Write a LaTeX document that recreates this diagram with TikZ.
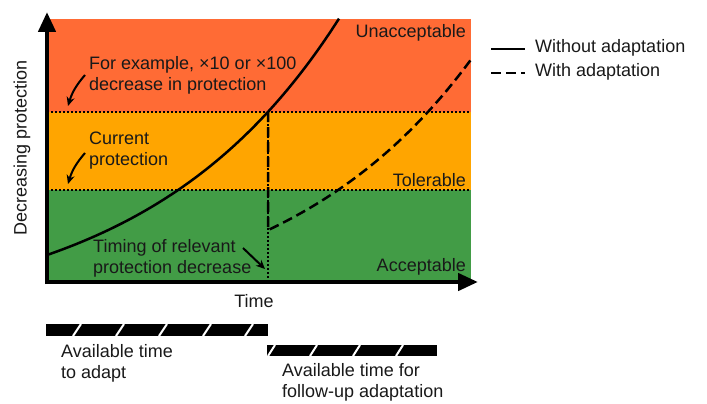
\documentclass[tikz,border=0pt]{standalone}
\usepackage{fontspec}
\setmainfont{Liberation Sans}
\usetikzlibrary{arrows.meta}
\definecolor{zred}{RGB}{255,107,53}
\definecolor{zorange}{RGB}{255,165,0}
\definecolor{zgreen}{RGB}{66,156,70}
\begin{document}
\begin{tikzpicture}[x=1pt,y=-1pt,
  every node/.style={font=\fontsize{18}{21}\selectfont, inner sep=0pt, text=black!90},
  lbl/.style={align=left, anchor=west},
  zone/.style={anchor=east},
  curve/.style={line width=2.5pt},
  dashcurve/.style={line width=2.5pt, dash pattern=on 10pt off 5pt},
  dotline/.style={line width=1.5pt, dash pattern=on 1.5pt off 2.5pt},
  axis/.style={line width=4.5pt, -{Triangle[length=20pt,width=17pt]}},
  pointer/.style={line width=2pt, -{Stealth[length=9pt,width=8pt]}},
  bar/.style={fill=black},
  slash/.style={white, line width=2pt}]
\useasboundingbox (0,0) rectangle (707,404);
% zones
\fill[zred] (47,19) rectangle (471,112);
\fill[zorange] (47,112) rectangle (471,190);
\fill[zgreen] (47,190) rectangle (471,282);
% dotted thresholds
\draw[dotline] (47,112) -- (471,112);
\draw[dotline] (47,190) -- (471,190);
\draw[dotline] (268,112) -- (268,282);
% curves
\draw[curve] plot[domain=47:339, samples=80, smooth] (\x, {322-67*exp(0.00517*(\x-47))});
\draw[dashcurve] (268,112) -- (268,230) -- plot[domain=268:471, samples=60, smooth] (\x, {322-67*exp(0.00517*(\x-207))});
% axes
\draw[axis] (47,284) -- (47,12);
\draw[axis] (45,282) -- (478,282);
% zone labels
\node[zone] (unacc) at (466,33) {Unacceptable};
\node[zone] (toler) at (466,180) {Tolerable};
\node[zone] (accep) at (466,267) {Acceptable};
% annotations
\node[lbl] (example) at (89,75.5) {For example, ×10 or ×100\\decrease in protection};
\node[lbl] (current) at (89,151) {Current\\protection};
\node[lbl] (timing) at (93,258.5) {Timing of relevant\\protection decrease};
\coordinate (exS) at (85,75);
\coordinate (exE) at (68,106);
\coordinate (cuS) at (85,153);
\coordinate (cuE) at (68,184);
\coordinate (tiS) at (243,248);
\coordinate (tiE) at (265,269);
\draw[pointer] (exS) to[bend right=12] (exE);
\draw[pointer] (cuS) to[bend right=12] (cuE);
\draw[pointer] (tiS) -- (tiE);
% axis labels
\node[rotate=90] (ylab) at (22,148) {Decreasing protection};
\node (xlab) at (254,301) {Time};
% legend
\coordinate (l1a) at (491,49);
\coordinate (l1b) at (525,49);
\coordinate (l2a) at (491,73);
\coordinate (l2b) at (525,73);
\draw[curve] (l1a) -- (l1b);
\draw[dashcurve] (l2a) -- (l2b);
\node[lbl] (leg1) at (535,48) {Without adaptation};
\node[lbl] (leg2) at (535,72) {With adaptation};
% bars
\fill[bar] (46,324) rectangle (268,336);
\foreach \s in {73,116,159,203,245} \draw[slash] (\s,336) -- (\s+8,324);
\fill[bar] (267,345) rectangle (437,356);
\foreach \s in {268,310,353,396} \draw[slash] (\s,356) -- (\s+7,345);
\node[lbl] (adapt) at (61,363) {Available time\\to adapt};
\node[lbl] (follow) at (282,382) {Available time for\\follow-up adaptation};
\end{tikzpicture}
\end{document}
